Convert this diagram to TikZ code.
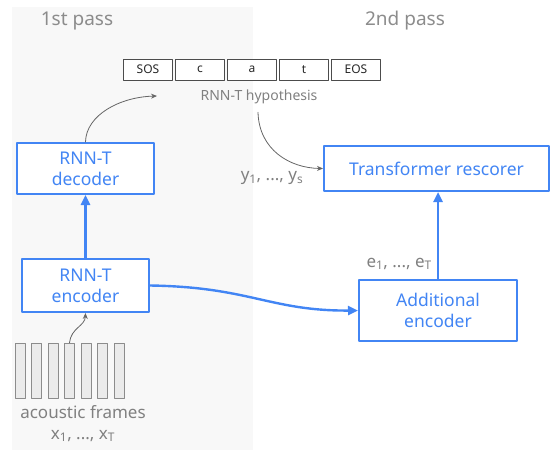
\documentclass[tikz,border=0pt]{standalone}
\usepackage{fontspec}
\setmainfont{Noto Sans}
\usetikzlibrary{arrows.meta}
\definecolor{gblue}{HTML}{4285F4}
\definecolor{tgray}{HTML}{808080}
\definecolor{panel}{HTML}{F8F8F8}
\begin{document}
\begin{tikzpicture}[x=1pt, y=-1pt, line join=round, line cap=round,
	blk/.style={draw=gblue, line width=2pt, fill=white, text=gblue, align=center, inner sep=0pt, font=\fontsize{17.5}{21}\selectfont},
	tok/.style={draw=black!70, line width=0.7pt, fill=white, text=black!85, minimum width=49, minimum height=21, inner sep=0pt, font=\fontsize{12}{14}\selectfont},
	frm/.style={draw=black!45, line width=0.7pt, fill=black!8, minimum width=10, minimum height=55, inner sep=0pt},
	lbl/.style={text=tgray, inner sep=0pt, font=\fontsize{14}{16}\selectfont},
	big/.style={text=tgray, inner sep=0pt, font=\fontsize{17}{20}\selectfont},
	head/.style={text=black!45, inner sep=0pt, font=\fontsize{19}{23}\selectfont\bfseries},
	garrow/.style={draw=black!60, line width=0.8pt, -{Stealth[length=6pt, width=5pt]}},
	barrow/.style={color=gblue, line width=2.4pt, -{Triangle[length=10pt, width=9pt]}}]
	\useasboundingbox (0,0) rectangle (551,450);
	\fill[panel] (12,7) rectangle (253,450);
	% headers
	\node[head] (p1) at (77,21) {1st pass};
	\node[head] (p2) at (405,21) {2nd pass};
	% hypothesis tokens
	\foreach \t [count=\i] in {SOS,c,a,t,EOS}
		\node[tok] (tok\i) at (148+52*\i-52, 69.5) {\t};
	\node[lbl] (hyp) at (259,97) {RNN-T hypothesis};
	\coordinate (hypin) at (157,96);
	% blocks
	\node[blk, minimum width=137, minimum height=51] (dec) at (85.5,168.5) {RNN-T\\decoder};
	\node[blk, minimum width=127, minimum height=53] (enc) at (85.5,285.5) {RNN-T\\encoder};
	\node[blk, minimum width=225, minimum height=45] (resc) at (436.5,168.5) {Transformer rescorer};
	\node[blk, minimum width=158, minimum height=61] (add) at (438,310.5) {Additional\\encoder};
	% acoustic frames
	\foreach \i in {1,...,7}
		\node[frm] (f\i) at (20+16.5*\i-16.5, 370.5) {};
	\node[big] (ac) at (83,412) {acoustic frames};
	\node[big] (xs) at (83,436) {x\textsubscript{1}, ..., x\textsubscript{T}};
	\node[big] (ys) at (272,178) {y\textsubscript{1}, ..., y\textsubscript{s}};
	\node[big, anchor=east] (es) at (432,264) {e\textsubscript{1}, ..., e\textsubscript{T}};
	% connectors
	\draw[garrow] (dec.north) .. controls (86,115) and (120,97) .. (hypin);
	\draw[garrow] ([xshift=-1pt,yshift=-8pt]hyp.south) .. controls (259,150) and (290,168) .. (resc.west);
	\draw[garrow] (f4.north) .. controls (71,328) and (85,326) .. (enc.south);
	\draw[barrow] (enc.north) -- (dec.south);
	\draw[barrow] (add.north) -- (add.north |- resc.south);
	\draw[barrow] (enc.east) .. controls (250,287) and (270,311) .. (add.west);
\end{tikzpicture}
\end{document}
